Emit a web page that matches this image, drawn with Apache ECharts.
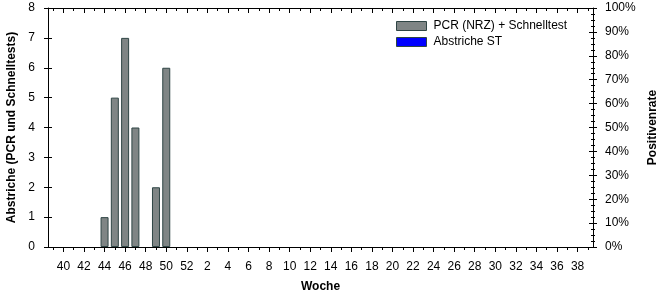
<!DOCTYPE html>
<html><head><meta charset="utf-8">
<script src="https://cdn.jsdelivr.net/npm/echarts@6/dist/echarts.min.js"></script>
<style>html,body{margin:0;padding:0;background:#fff}#c{width:666px;height:300px}</style>
</head><body><div id="c"></div>
<script>
const weeks = [39,40,41,42,43,44,45,46,47,48,49,50,51,52,1,2,3,4,5,6,7,8,9,10,11,12,13,14,15,16,17,18,19,20,21,22,23,24,25,26,27,28,29,30,31,32,33,34,35,36,37,38,39].map(String);
const pcrValues = {44:1,45:5,46:7,47:4,49:2,50:6};
const pcrSeries = weeks.map((w,i)=> (i<14 && pcrValues[w]!==undefined) ? pcrValues[w] : null);
const stSeries = weeks.map(()=>null);
const leftTicks = [0,8,1];
const rightTicks = [0,100,10];
const font = 'Liberation Sans, Arial, sans-serif';
const chart = echarts.init(document.getElementById('c'));
const lineStyle = {color:'#000', width:1};
const odd = (i)=> i%2===1;
const barColor = '#7f8585';
const barBorder = '#2f4545';
const catAxis = (extra) => Object.assign({
  type:'category', data:weeks, boundaryGap:true,
  axisLine:{show:true, onZero:false, lineStyle}, axisLabel:{show:false}, splitLine:{show:false}
}, extra);
const valAxis = (lim, extra) => Object.assign({
  type:'value', min:lim[0], max:lim[1], interval:lim[2],
  axisLine:{show:false, onZero:false}, axisLabel:{show:false}, splitLine:{show:false}
}, extra);
const gridPos = {left:48, right:73, top:8, bottom:53, containLabel:false, outerBoundsMode:'none'};
chart.setOption({
  animation:false,
  grid:[Object.assign({}, gridPos), Object.assign({}, gridPos)],
  legend:{
    orient:'vertical', left:391, top:15, itemWidth:30, itemHeight:9, itemGap:4, icon:'rect',
    textStyle:{fontFamily:font, fontSize:12, color:'#000', padding:[0,0,0,2]},
    data:[
      {name:'PCR (NRZ) + Schnelltest', itemStyle:{color:barColor, borderColor:barBorder, borderWidth:1}},
      {name:'Abstriche ST', itemStyle:{color:'#0000ff', borderColor:barBorder, borderWidth:1}}
    ]
  },
  xAxis:[
    catAxis({gridIndex:0, position:'bottom', name:'Woche', nameLocation:'middle', nameGap:34,
      nameTextStyle:{fontFamily:font, fontSize:12, fontWeight:'bold', color:'#000'},
      axisLabel:{show:true, interval:odd, fontFamily:font, fontSize:12, color:'#000', margin:14},
      axisTick:{show:true, interval:0, alignWithLabel:true, length:3, lineStyle}}),
    catAxis({gridIndex:0, position:'top',
      axisTick:{show:true, inside:true, interval:0, alignWithLabel:true, length:3, lineStyle}}),
    catAxis({gridIndex:1, position:'bottom', axisLine:{show:false, onZero:false},
      axisTick:{show:true, interval:odd, alignWithLabel:true, length:5, lineStyle}}),
    catAxis({gridIndex:1, position:'top', axisLine:{show:false, onZero:false},
      axisTick:{show:true, inside:true, interval:odd, alignWithLabel:true, length:5, lineStyle}})
  ],
  yAxis:[
    valAxis(leftTicks, {gridIndex:0, position:'left',
      name:'Abstriche (PCR und Schnelltests)', nameLocation:'middle', nameGap:24, nameRotate:90,
      nameTextStyle:{fontFamily:font, fontSize:12, fontWeight:'bold', color:'#000'},
      axisLine:{show:true, onZero:false, lineStyle}, axisTick:{show:true, length:4, lineStyle},
      axisLabel:{show:true, fontFamily:font, fontSize:12, color:'#000', margin:13}}),
    valAxis(rightTicks, {gridIndex:0, position:'right',
      name:'Positivenrate', nameLocation:'middle', nameGap:41, nameRotate:90,
      nameTextStyle:{fontFamily:font, fontSize:12, fontWeight:'bold', color:'#000'},
      axisLine:{show:true, onZero:false, lineStyle}, axisTick:{show:true, length:4, lineStyle},
      minorTick:{show:true, splitNumber:4, length:2, lineStyle},
      axisLabel:{show:true, fontFamily:font, fontSize:12, color:'#000', margin:12, formatter:'{value}%'}}),
    valAxis(leftTicks, {gridIndex:1, position:'left',
      axisTick:{show:true, inside:true, length:4, lineStyle}}),
    valAxis(rightTicks, {gridIndex:1, position:'right',
      axisTick:{show:true, inside:true, length:4, lineStyle},
      minorTick:{show:true, splitNumber:4, length:2, lineStyle}})
  ],
  series:[
    {name:'PCR (NRZ) + Schnelltest', type:'bar', xAxisIndex:0, yAxisIndex:0, data:pcrSeries, barWidth:8, barGap:'-100%',
      itemStyle:{color:barColor, borderColor:barBorder, borderWidth:1}},
    {name:'Abstriche ST', type:'bar', xAxisIndex:0, yAxisIndex:0, data:stSeries, barWidth:8, barGap:'-100%',
      itemStyle:{color:'#0000ff', borderColor:barBorder, borderWidth:1}}
  ]
});
</script></body></html>
